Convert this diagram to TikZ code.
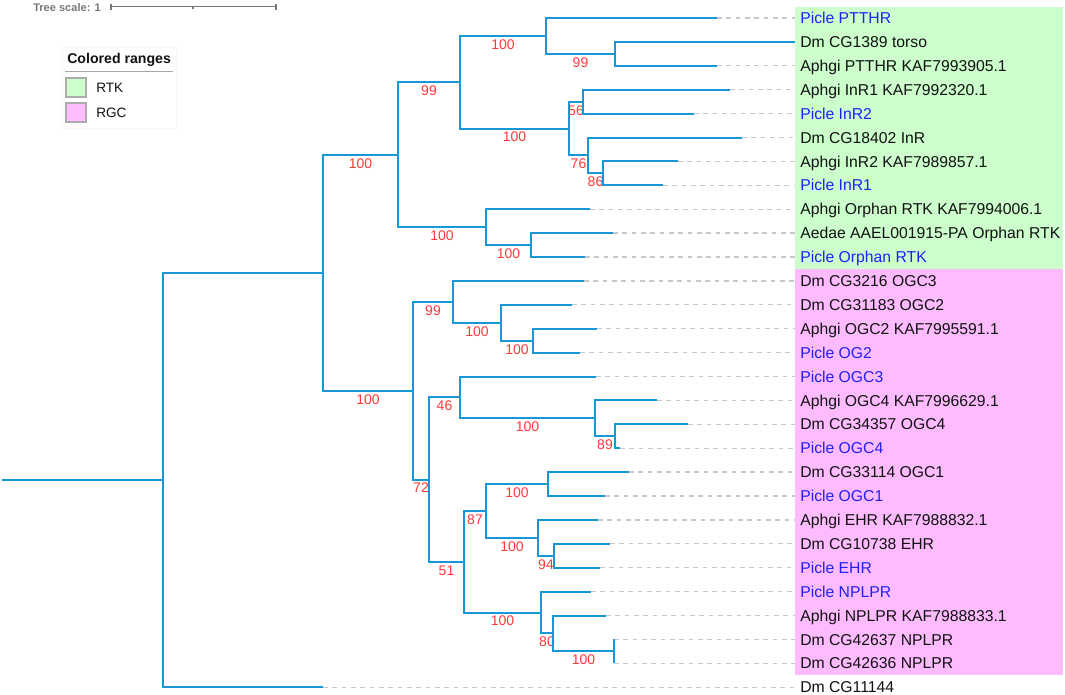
\documentclass[tikz,border=0pt]{standalone}
\usepackage{fontspec}
\setmainfont{Liberation Sans}
\definecolor{brc}{RGB}{22,152,214}
\definecolor{dashc}{RGB}{200,200,200}
\definecolor{bsc}{RGB}{255,58,58}
\definecolor{bluetx}{RGB}{32,32,245}
\definecolor{blacktx}{RGB}{17,17,17}
\definecolor{rtkc}{RGB}{204,255,204}
\definecolor{rgcc}{RGB}{255,187,255}
\definecolor{scalec}{RGB}{120,120,120}
\tikzset{
  br/.style={draw=brc, line width=1.5pt},
  dl/.style={draw=dashc, line width=1pt, dash pattern=on 3.5pt off 3.5pt},
  lab/.style={anchor=base west, inner sep=0pt, font=\fontsize{11.8}{14}\selectfont},
  bs/.style={pos=0.75, below=2pt, inner sep=0pt, text=bsc, font=\fontsize{10.5}{12}\selectfont},
  legtx/.style={anchor=base west, inner sep=0pt, font=\fontsize{10.2}{12}\selectfont, text=blacktx},
}
\newcommand{\mkleaf}[5]{%
  \coordinate (#1) at (#3,#2);
  \coordinate (#1d) at (795,#2);
  \draw[dl] (#1) -- (#1d);
  \node[lab, text=#5] (#1t) at (800,#2+5.6) {#4};
}
\begin{document}
\begin{tikzpicture}[x=0.75pt, y=-0.75pt]
\useasboundingbox (0,0) rectangle (1065,694);
\fill[white] (0,0) rectangle (1065,694);
% colored ranges
\fill[rtkc] (795,7) rectangle (1063,269);
\fill[rgcc] (795,269) rectangle (1063,675);
% leaves
\mkleaf{l1}{18}{717}{Picle PTTHR}{bluetx}
\mkleaf{l2}{41.9}{795}{Dm CG1389 torso}{blacktx}
\mkleaf{l3}{65.8}{717}{Aphgi PTTHR KAF7993905.1}{blacktx}
\mkleaf{l4}{89.7}{730}{Aphgi InR1 KAF7992320.1}{blacktx}
\mkleaf{l5}{113.6}{694}{Picle InR2}{bluetx}
\mkleaf{l6}{137.5}{742}{Dm CG18402 InR}{blacktx}
\mkleaf{l7}{161.4}{678}{Aphgi InR2 KAF7989857.1}{blacktx}
\mkleaf{l8}{185.3}{663}{Picle InR1}{bluetx}
\mkleaf{l9}{209.2}{590}{Aphgi Orphan RTK KAF7994006.1}{blacktx}
\mkleaf{l10}{233.1}{613}{Aedae AAEL001915-PA Orphan RTK}{blacktx}
\mkleaf{l11}{257}{585}{Picle Orphan RTK}{bluetx}
\mkleaf{l12}{280.9}{584}{Dm CG3216 OGC3}{blacktx}
\mkleaf{l13}{304.8}{572}{Dm CG31183 OGC2}{blacktx}
\mkleaf{l14}{328.7}{597}{Aphgi OGC2 KAF7995591.1}{blacktx}
\mkleaf{l15}{352.6}{580}{Picle OG2}{bluetx}
\mkleaf{l16}{376.5}{596}{Picle OGC3}{bluetx}
\mkleaf{l17}{400.4}{657}{Aphgi OGC4 KAF7996629.1}{blacktx}
\mkleaf{l18}{424.3}{688}{Dm CG34357 OGC4}{blacktx}
\mkleaf{l19}{448.2}{620}{Picle OGC4}{bluetx}
\mkleaf{l20}{472.1}{629}{Dm CG33114 OGC1}{blacktx}
\mkleaf{l21}{496}{605}{Picle OGC1}{bluetx}
\mkleaf{l22}{519.9}{598}{Aphgi EHR KAF7988832.1}{blacktx}
\mkleaf{l23}{543.8}{610}{Dm CG10738 EHR}{blacktx}
\mkleaf{l24}{567.7}{600}{Picle EHR}{bluetx}
\mkleaf{l25}{591.6}{591}{Picle NPLPR}{bluetx}
\mkleaf{l26}{615.5}{606}{Aphgi NPLPR KAF7988833.1}{blacktx}
\mkleaf{l27}{639.4}{614}{Dm CG42637 NPLPR}{blacktx}
\mkleaf{l28}{663.3}{614}{Dm CG42636 NPLPR}{blacktx}
\mkleaf{l29}{687.2}{323}{Dm CG11144}{blacktx}
% internal nodes
\coordinate (start) at (2,480);
\coordinate (R0) at (163,480);
\coordinate (A) at (323,272.7);
\coordinate (B) at (398,154.7);
\coordinate (C) at (460,82.2);
\coordinate (D) at (546,35.9);
\coordinate (E) at (615,53.85);
\coordinate (F) at (569,128.5);
\coordinate (G) at (583,101.65);
\coordinate (H) at (588,155.4);
\coordinate (I) at (603,173.35);
\coordinate (J) at (486,227.1);
\coordinate (K) at (531,245);
\coordinate (L) at (413,390.7);
\coordinate (M) at (453,301.8);
\coordinate (N) at (501,322.7);
\coordinate (O) at (533,340.6);
\coordinate (P) at (429,479.5);
\coordinate (Q) at (460,397.4);
\coordinate (Rn) at (595,418.3);
\coordinate (S) at (615,436.25);
\coordinate (T) at (464,561.7);
\coordinate (U) at (486,510.9);
\coordinate (V) at (548,484);
\coordinate (W) at (538,537.8);
\coordinate (X) at (554,555.75);
\coordinate (Y) at (541,612.5);
\coordinate (Z) at (553,633.4);
\coordinate (AA) at (614,651.35);
% branches
\draw[br] (start) -- (R0);
\draw[br] (R0) |- (A);
\draw[br] (R0) |- (l29);
\draw[br] (A) |- (B) node[bs] {100};
\draw[br] (A) |- (L) node[bs] {100};
\draw[br] (B) |- (C) node[bs] {99};
\draw[br] (B) |- (J) node[bs] {100};
\draw[br] (C) |- (D) node[bs] {100};
\draw[br] (C) |- (F) node[bs] {100};
\draw[br] (D) |- (l1);
\draw[br] (D) |- (E) node[bs] {99};
\draw[br] (E) |- (l2);
\draw[br] (E) |- (l3);
\draw[br] (F) |- (G) node[bs] {56};
\draw[br] (F) |- (H) node[bs] {76};
\draw[br] (G) |- (l4);
\draw[br] (G) |- (l5);
\draw[br] (H) |- (l6);
\draw[br] (H) |- (I) node[bs] {86};
\draw[br] (I) |- (l7);
\draw[br] (I) |- (l8);
\draw[br] (J) |- (l9);
\draw[br] (J) |- (K) node[bs] {100};
\draw[br] (K) |- (l10);
\draw[br] (K) |- (l11);
\draw[br] (L) |- (M) node[bs] {99};
\draw[br] (L) |- (P) node[bs] {72};
\draw[br] (M) |- (l12);
\draw[br] (M) |- (N) node[bs] {100};
\draw[br] (N) |- (l13);
\draw[br] (N) |- (O) node[bs] {100};
\draw[br] (O) |- (l14);
\draw[br] (O) |- (l15);
\draw[br] (P) |- (Q) node[bs] {46};
\draw[br] (P) |- (T) node[bs] {51};
\draw[br] (Q) |- (l16);
\draw[br] (Q) |- (Rn) node[bs] {100};
\draw[br] (Rn) |- (l17);
\draw[br] (Rn) |- (S) node[bs] {89};
\draw[br] (S) |- (l18);
\draw[br] (S) |- (l19);
\draw[br] (T) |- (U) node[bs] {87};
\draw[br] (T) |- (Y) node[bs] {100};
\draw[br] (U) |- (V) node[bs] {100};
\draw[br] (U) |- (W) node[bs] {100};
\draw[br] (V) |- (l20);
\draw[br] (V) |- (l21);
\draw[br] (W) |- (l22);
\draw[br] (W) |- (X) node[bs] {94};
\draw[br] (X) |- (l23);
\draw[br] (X) |- (l24);
\draw[br] (Y) |- (l25);
\draw[br] (Y) |- (Z) node[bs] {80};
\draw[br] (Z) |- (l26);
\draw[br] (Z) |- (AA) node[bs] {100};
\draw[br] (AA) |- (l27);
\draw[br] (AA) |- (l28);
% tree scale
\node[anchor=base west, inner sep=0pt, text=scalec, font=\bfseries\fontsize{8.3}{10}\selectfont] (scaletx) at (33,11) {Tree scale: 1};
\coordinate (sb1) at (111,6.8);
\coordinate (sb2) at (276,6.8);
\coordinate (sbm) at (193,6.8);
\draw[scalec, line width=0.8pt] (sb1) -- (sb2);
\draw[scalec, line width=0.8pt] ([yshift=2.2pt]sb1) -- ([yshift=-2.2pt]sb1);
\draw[scalec, line width=0.8pt] ([yshift=2.2pt]sb2) -- ([yshift=-2.2pt]sb2);
\draw[scalec, line width=0.8pt] (sbm) -- ([yshift=-1.5pt]sbm);
% legend
\draw[gray!6, line width=0.6pt] (62,47) rectangle (176,128);
\node[anchor=base west, inner sep=0pt, text=blacktx, font=\bfseries\fontsize{10.6}{12}\selectfont] (legtitle) at (67,63) {Colored ranges};
\draw[gray!70, line width=0.8pt] (65,71.5) -- (173,71.5);
\draw[fill=rtkc, draw=gray!65, line width=0.8pt] (66,78) rectangle (86,97);
\node[legtx] (legrtk) at (96,92) {RTK};
\draw[fill=rgcc, draw=gray!65, line width=0.8pt] (66,103) rectangle (86,122);
\node[legtx] (legrgc) at (96,117) {RGC};
\end{tikzpicture}
\end{document}
